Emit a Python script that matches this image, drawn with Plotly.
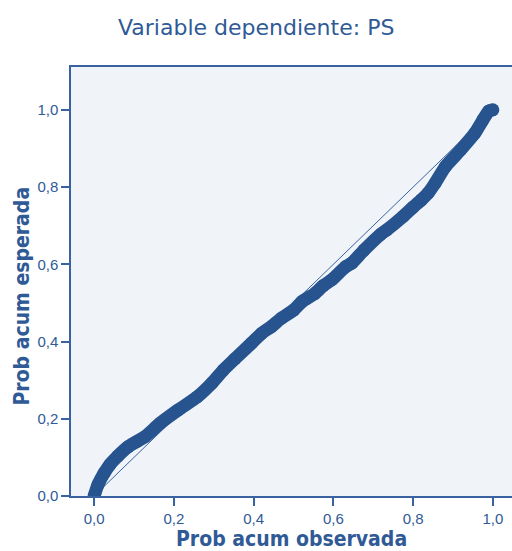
import plotly.graph_objects as go

prob_observada = [0.000, 0.010, 0.025, 0.040, 0.060, 0.086, 0.105, 0.128, 0.165, 0.211,
                  0.259, 0.295, 0.324, 0.353, 0.395, 0.420, 0.445, 0.469, 0.501, 0.522,
                  0.554, 0.575, 0.596, 0.631, 0.646, 0.677, 0.719, 0.734, 0.775, 0.800,
                  0.821, 0.838, 0.855, 0.881, 0.919, 0.955, 0.975, 0.990, 1.000]
prob_esperada = [0.000, 0.030, 0.059, 0.082, 0.104, 0.128, 0.140, 0.154, 0.188, 0.223,
                 0.257, 0.292, 0.326, 0.355, 0.396, 0.421, 0.439, 0.460, 0.482, 0.504,
                 0.525, 0.545, 0.560, 0.594, 0.603, 0.637, 0.678, 0.689, 0.724, 0.748,
                 0.767, 0.785, 0.810, 0.853, 0.896, 0.940, 0.974, 0.997, 1.000]
diag_x = [0.0, 1.0]
diag_y = [0.0, 1.0]
tick_vals = [0.0, 0.2, 0.4, 0.6, 0.8, 1.0]
tick_text = ["0,0", "0,2", "0,4", "0,6", "0,8", "1,0"]

BLUE = "#27548f"
AXIS = "#3863a0"
TEXT = "#2f5a96"
FONT = "DejaVu Sans"
BOLDFONT = "DejaVu Sans Condensed, Liberation Sans, sans-serif"
TICKFONT = "Liberation Sans, Arial, sans-serif"

fig = go.Figure()
fig.add_trace(go.Scatter(x=diag_x, y=diag_y, mode="lines",
                         line=dict(color=AXIS, width=1), hoverinfo="skip"))
fig.add_trace(go.Scatter(x=prob_observada, y=prob_esperada, mode="lines+markers",
                         line=dict(color=BLUE, width=13, shape="spline", smoothing=0.6),
                         marker=dict(color=BLUE, size=13)))

axis_common = dict(showline=True, linecolor=AXIS, linewidth=1.5, ticks="outside",
                   ticklen=8, tickwidth=1.5, tickcolor=AXIS, showgrid=False, zeroline=False,
                   tickvals=tick_vals, ticktext=tick_text,
                   tickfont=dict(family=TICKFONT, size=15, color=TEXT))

fig.update_layout(
    width=512, height=551,
    margin=dict(l=71, r=0, t=67, b=55),
    paper_bgcolor="white", plot_bgcolor="#f0f4f8",
    showlegend=False,
    xaxis=dict(range=[-0.058, 1.048], mirror=True, **axis_common),
    yaxis=dict(range=[0, 1.111], mirror=False, **axis_common),
    annotations=[
        dict(text="Variable dependiente: PS", xref="paper", yref="paper", x=0.4195, y=1.0932,
             showarrow=False, xanchor="center", yanchor="middle",
             font=dict(family=FONT, size=22, color=TEXT)),
        dict(text="<b>Prob acum observada</b>", xref="paper", yref="paper", x=0.501, y=-0.1002,
             showarrow=False, xanchor="center", yanchor="middle",
             font=dict(family=BOLDFONT, size=21, color=TEXT)),
        dict(text="<b>Prob acum esperada</b>", xref="paper", yref="paper", x=-0.1122, y=0.4662,
             showarrow=False, xanchor="center", yanchor="middle", textangle=-90,
             font=dict(family=BOLDFONT, size=21, color=TEXT)),
    ],
)

fig.write_html("out.html")
